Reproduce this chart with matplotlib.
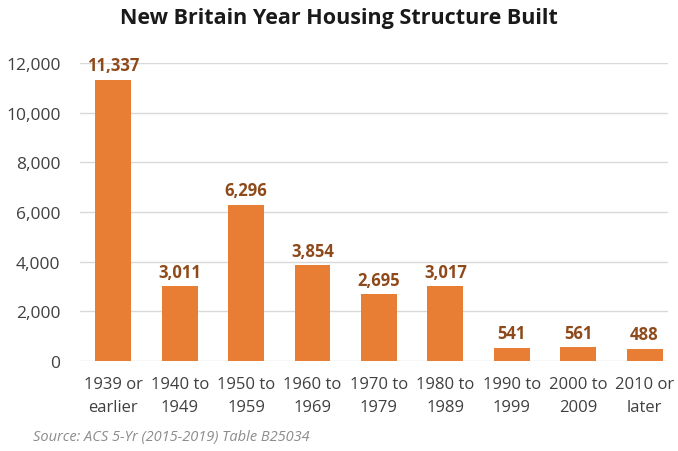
import matplotlib
matplotlib.use('Agg')
import matplotlib.pyplot as plt

categories = ['1939 or\nearlier', '1940 to\n1949', '1950 to\n1959', '1960 to\n1969',
              '1970 to\n1979', '1980 to\n1989', '1990 to\n1999', '2000 to\n2009', '2010 or\nlater']
units = [11337, 3011, 6296, 3854, 2695, 3017, 541, 561, 488]
yticks = [0, 2000, 4000, 6000, 8000, 10000, 12000]

plt.rcParams['font.family'] = ['Open Sans', 'DejaVu Sans']

fig = plt.figure(figsize=(6.78, 4.52), dpi=100)
ax = fig.add_axes([0.118, 0.199, 0.867, 0.659])

x = range(len(units))
ax.bar(x, units, width=0.54, color='#E87D34', zorder=3)
for i, v in enumerate(units):
    ax.text(i, v + 220, f'{v:,}', ha='center', va='bottom', fontsize=12,
            fontweight='bold', color='#8E4A1B', clip_on=False)

ax.set_ylim(0, 12000)
ax.set_xlim(-0.5, 8.35)
ax.set_yticks(yticks)
ax.set_yticklabels([f'{t:,}' for t in yticks])
ax.set_xticks(list(x))
ax.set_xticklabels(categories, linespacing=1.55)
ax.tick_params(axis='both', length=0, colors='#404040', labelsize=12.5)
ax.tick_params(axis='x', labelsize=12, pad=11)
ax.tick_params(axis='y', pad=14)
ax.yaxis.grid(True, color='#D9D9D9', linewidth=1, zorder=0)
for s in ax.spines.values():
    s.set_visible(False)

fig.text(0.5, 0.958, 'New Britain Year Housing Structure Built', ha='center', va='center',
         fontsize=15.5, fontweight='bold', color='#1a1a1a')
fig.text(0.049, 0.033, 'Source: ACS 5-Yr (2015-2019) Table B25034', ha='left', va='center',
         fontsize=10.5, style='italic', color='#8c8c8c')

fig.savefig('out.png', dpi=100)
